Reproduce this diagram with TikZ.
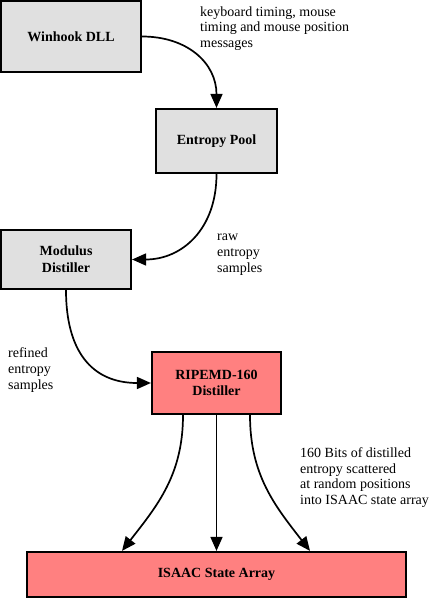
\documentclass[tikz,border=0pt]{standalone}
\usepackage{fontspec}
\setmainfont{Liberation Serif}
\usetikzlibrary{arrows.meta}
\definecolor{boxgray}{HTML}{E0E0E0}
\definecolor{boxpink}{HTML}{FF8080}
\begin{document}
\begin{tikzpicture}[x=1pt,y=-1pt,
  box/.style={draw=black, line width=2.2pt, inner sep=0pt, align=center,
    font=\fontsize{14}{16.6}\selectfont\bfseries},
  graybox/.style={box, fill=boxgray},
  pinkbox/.style={box, fill=boxpink},
  flow/.style={line width=1.7pt, -{Triangle[length=14pt,width=12pt]}},
  note/.style={anchor=north west, inner sep=0pt, align=left,
    font=\fontsize{14}{15.7}\selectfont}]
\useasboundingbox (0,0) rectangle (441,599);

\node[graybox, minimum width=140pt, minimum height=71pt] (win) at (71,36.5) {Winhook DLL};
\node[graybox, minimum width=121pt, minimum height=64pt] (pool) at (216.5,141) {Entropy Pool};
\node[graybox, minimum width=130pt, minimum height=59pt] (mod) at (66,259.5) {Modulus\\Distiller};
\node[pinkbox, minimum width=129pt, minimum height=62pt] (rip) at (216.5,383) {RIPEMD-160\\Distiller};
\node[pinkbox, minimum width=379pt, minimum height=45pt] (isaac) at (216.5,574.5) {ISAAC State Array};

\coordinate (r1) at ([xshift=-33.5pt]rip.south);
\coordinate (r3) at ([xshift=33.5pt]rip.south);
\coordinate (i1) at ([xshift=-94.5pt]isaac.north);
\coordinate (i3) at ([xshift=93.5pt]isaac.north);

\draw[flow] (win.east) .. controls +(45,0) and +(0,-45) .. (pool.north);
\draw[flow] (pool.south) .. controls +(0,55) and +(50,0) .. (mod.east);
\draw[flow] (mod.south) .. controls +(0,60) and +(-60,0) .. (rip.west);
\draw[flow] (r1) .. controls +(0,60) and +(35,-45) .. (i1);
\draw[flow] (rip.south) -- (isaac.north);
\draw[flow] (r3) .. controls +(0,60) and +(-35,-45) .. (i3);

\node[note] (l1) at (200,5) {\strut keyboard timing, mouse\\timing and mouse position\\messages};
\node[note] (l2) at (217,229.7) {\strut raw\\entropy\\samples};
\node[note] (l3) at (8,346.7) {\strut refined\\entropy\\samples};
\node[note] (l4) at (300,446.3) {\strut 160 Bits of distilled\\entropy scattered\\at random positions\\into ISAAC state array};
\end{tikzpicture}
\end{document}
